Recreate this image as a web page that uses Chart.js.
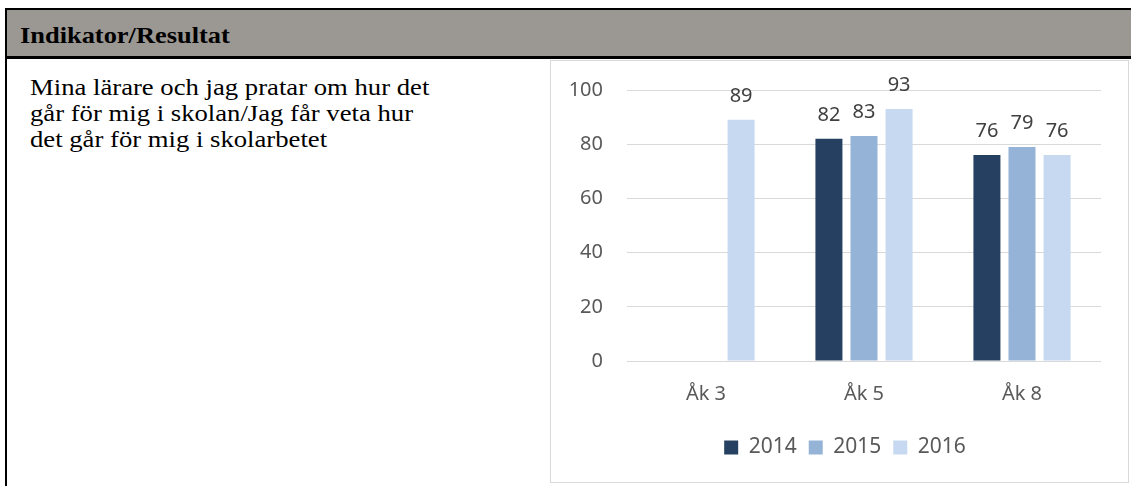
<!DOCTYPE html>
<html>
<head>
<meta charset="utf-8">
<script src="https://cdn.jsdelivr.net/npm/chart.js@4/dist/chart.umd.min.js"></script>
<style>
  body { margin: 0; background: #fff; width: 1131px; height: 486px; overflow: hidden; position: relative; }
  .frame { position: absolute; left: 5px; top: 8px; width: 1140px; height: 500px; border-left: 2px solid #000; }
  .head { position: absolute; left: 0; top: 0; width: 100%; height: 46px; background: #9b9792;
          border-top: 2px solid #000; border-bottom: 3px solid #000; }
  .head span { position: absolute; left: 13px; top: 12px; font: bold 24px "Liberation Serif", serif; color: #000;
               white-space: nowrap; transform: scaleX(1.10); transform-origin: 0 0; }
  .desc { position: absolute; left: 30px; top: 75px; width: 460px; font: 23px/26px "Liberation Serif", serif; color: #000;
          white-space: nowrap; transform: scaleX(1.16); transform-origin: 0 0; }
  .box { position: absolute; left: 550px; top: 60px; width: 579px; height: 423px; border: 1px solid #d9d9d9; box-sizing: border-box; }
</style>
</head>
<body>
<div class="frame">
  <div class="head"><span>Indikator/Resultat</span></div>
</div>
<div class="desc">Mina lärare och jag pratar om hur det<br>går för mig i skolan/Jag får veta hur<br>det går för mig i skolarbetet</div>
<div class="box"><canvas id="graf"></canvas></div>

<script>
const kategorier = ['Åk 3', 'Åk 5', 'Åk 8'];
const ar = ['2014', '2015', '2016'];
const varden2014 = [null, 82, 76];
const varden2015 = [null, 83, 79];
const varden2016 = [89, 93, 76];
const yTicks = [0, 20, 40, 60, 80, 100];
const farger = ['#264061', '#95b3d7', '#c6d9f1'];

// etiketter ovanför staplarna
const stapelEtiketter = {
  id: 'stapelEtiketter',
  afterDatasetsDraw(chart) {
    const ctx = chart.ctx;
    ctx.save();
    ctx.font = '20px "Noto Sans"';
    ctx.fillStyle = '#404040';
    ctx.textAlign = 'center';
    ctx.textBaseline = 'alphabetic';
    chart.data.datasets.forEach((ds, i) => {
      chart.getDatasetMeta(i).data.forEach((bar, j) => {
        if (ds.data[j] == null) return;
        ctx.fillText(ds.data[j], bar.x, bar.y - 18);
      });
    });
    ctx.restore();
  }
};

// flytta förklaringen lite åt höger
const flyttaLegend = {
  id: 'flyttaLegend',
  afterLayout(chart) {
    chart.legend.left += 19;
    chart.legend.right += 19;
  }
};

const canvas = document.getElementById('graf');
canvas.width = 577;
canvas.height = 421;

new Chart(canvas, {
  type: 'bar',
  data: {
    labels: kategorier,
    datasets: [
      { label: ar[0], data: varden2014, backgroundColor: farger[0] },
      { label: ar[1], data: varden2015, backgroundColor: farger[1] },
      { label: ar[2], data: varden2016, backgroundColor: farger[2] }
    ]
  },
  options: {
    responsive: false,
    animation: false,
    devicePixelRatio: 1,
    layout: { padding: { top: 29, right: 27, left: 0, bottom: 14 } },
    datasets: { bar: { categoryPercentage: 0.666, barPercentage: 0.77 } },
    plugins: {
      tooltip: { enabled: false },
      legend: {
        position: 'bottom',
        labels: {
          boxWidth: 14, boxHeight: 14, padding: 12,
          color: '#595959', font: { family: 'Noto Sans', size: 21 }
        }
      }
    },
    scales: {
      x: {
        grid: { display: false, drawTicks: false },
        border: { display: false },
        ticks: { color: '#595959', font: { family: 'Noto Sans', size: 20 }, padding: 21 },
        afterFit(s) { s.height = 64; }
      },
      y: {
        min: 0, max: 100,
        afterBuildTicks(s) { s.ticks = yTicks.map(v => ({ value: v })); },
        grid: { color: '#d9d9d9', drawTicks: false },
        border: { display: false },
        ticks: { color: '#595959', font: { family: 'Noto Sans', size: 20 }, padding: 24 },
        afterFit(s) { s.width = 76; s.paddingTop = 0; s.paddingBottom = 0; }
      }
    }
  },
  plugins: [stapelEtiketter, flyttaLegend]
});
</script>
</body>
</html>
